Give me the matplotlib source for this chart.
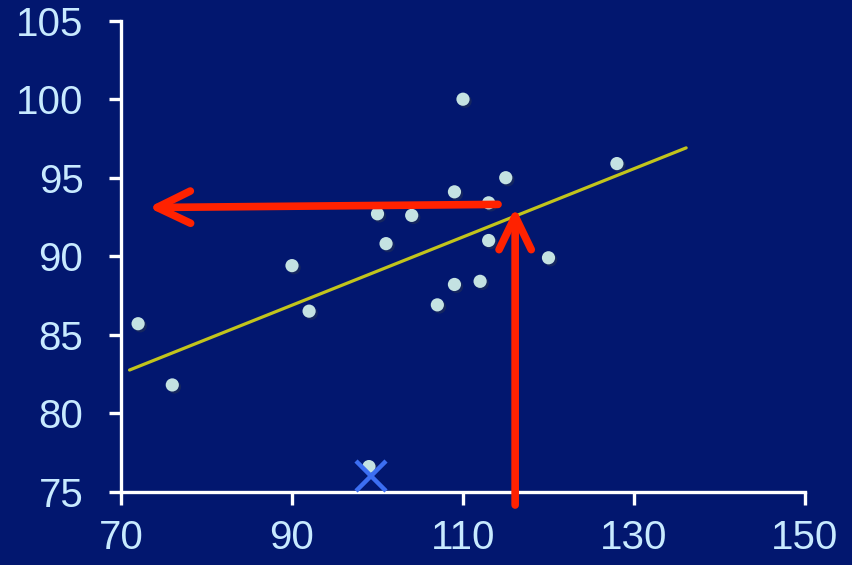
import numpy as np
import matplotlib
matplotlib.use('Agg')
import matplotlib.pyplot as plt
import matplotlib.patheffects as pe

# scatter data (x, y)
xs = [72, 76, 90, 92, 99, 100, 101, 104, 107, 109, 109, 110, 112, 113, 113, 115, 120, 128]
ys = [85.7, 81.8, 89.4, 86.5, 76.6, 92.7, 90.8, 92.6, 86.9, 94.1, 88.2, 100.0, 88.4, 91.0, 93.4, 95.0, 89.9, 95.9]

# regression line end points
line_x = [71, 136.1]
line_y = [82.75, 96.9]

# outlier marker
cross_x = [99.2]
cross_y = [76.0]

# prediction arrows: (start, tip)
up_arrow = [(116.1, 74.15), (116.1, 93.1)]
left_arrow = [(114.1, 93.3), (73.2, 93.1)]

xticks = [70, 90, 110, 130, 150]
yticks = [75, 80, 85, 90, 95, 100, 105]

bg = '#02176f'
txt = '#c8eaff'

plt.rcParams['font.family'] = ['Liberation Sans', 'DejaVu Sans']

fig = plt.figure(figsize=(8.52, 5.65), dpi=100, facecolor=bg)
ax = fig.add_axes([121/852, 1-491.7/565, (805-121)/852, (491.7-20.7)/565])
ax.set_facecolor(bg)

ax.plot(line_x, line_y, color='#c2c41c', lw=2.3, solid_capstyle='round', zorder=2)

ax.plot(xs, ys, 'o', ms=9.5, color='#c4e2e2', mec='none', zorder=3,
        path_effects=[pe.SimplePatchShadow(offset=(1.5, -1.5), alpha=0.35), pe.Normal()])

ax.plot(cross_x, cross_y, 'x', ms=22, mew=3.2, color='#3c6ef2', zorder=4, clip_on=False)

for (s, t) in [up_arrow, left_arrow]:
    ax.annotate('', xy=t, xytext=s, annotation_clip=False, zorder=5,
                arrowprops=dict(arrowstyle='->,head_length=1.2,head_width=0.58',
                                lw=5.5, color='#ff2200', shrinkA=0, shrinkB=0,
                                mutation_scale=20, capstyle='round', joinstyle='round'))

ax.set_xlim(70, 150)
ax.set_ylim(75, 105)
ax.set_xticks(xticks)
ax.set_yticks(yticks)

for side in ['top', 'right']:
    ax.spines[side].set_visible(False)
for side in ['left', 'bottom']:
    ax.spines[side].set_color('white')
    ax.spines[side].set_linewidth(2.4)

ax.tick_params(axis='both', colors='white', direction='out', length=9, width=2.4,
               labelsize=29, labelcolor=txt)
ax.tick_params(axis='x', pad=11)
ax.tick_params(axis='y', pad=18)

fig.savefig('out.png', dpi=100, facecolor=bg)
